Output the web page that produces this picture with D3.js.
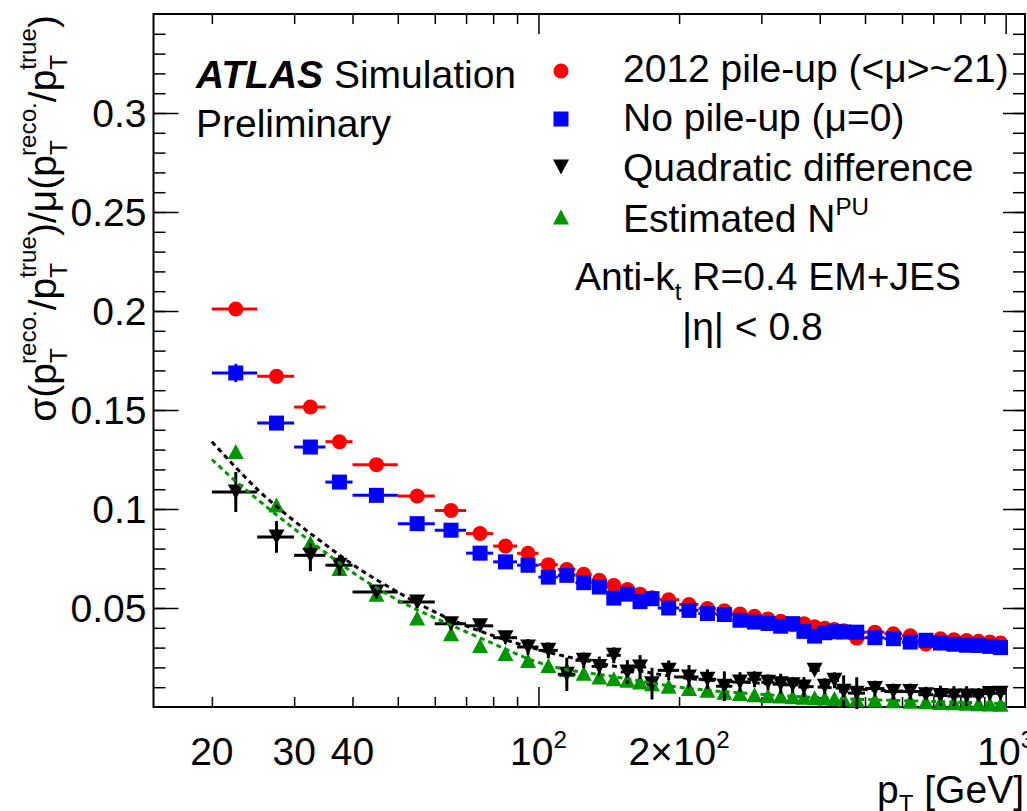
<!DOCTYPE html>
<html>
<head>
<meta charset="utf-8">
<script src="https://cdn.jsdelivr.net/npm/d3@7"></script>
<style>
  body { margin: 0; background: #fff; }
  text { font-family: "Liberation Sans", Arial, Helvetica, sans-serif; }
</style>
</head>
<body>
<svg id="chart" width="1027" height="811"></svg>
<script>
// pT bin edges [GeV]
const ptEdges = [20,25,30,35,40,50,60,70,80,90,100,110,120,130,140,150,160,170,180,200,220,240,260,280,300,320,340,360,380,400,420,440,460,500,550,600,650,700,750,800,850,900,950,1000];

// 2012 pile-up (<mu>~21)
const pileUp = [0.201,0.167,0.1515,0.134,0.1224,0.1066,0.0993,0.0876,0.0813,0.0776,0.0719,0.0695,0.0670,0.0640,0.0614,0.0593,0.0570,0.0552,0.0542,0.0518,0.0497,0.0486,0.0470,0.0458,0.0445,0.0433,0.0415,0.0421,0.0405,0.0398,0.0392,0.0385,0.0348,0.0378,0.0370,0.0360,0.0318,0.0345,0.0340,0.0336,0.0332,0.0328,0.0323];
const pileUpErr = [0.0015,0.0012,0.0012,0.0010,0.0010,0.0010,0.0010,0.0010,0.0010,0.0010,0.0010,0.0010,0.0010,0.0010,0.0010,0.0010,0.0010,0.0010,0.0010,0.0010,0.0010,0.0010,0.0010,0.0010,0.0010,0.0010,0.0010,0.0010,0.0010,0.0010,0.0010,0.0010,0.0010,0.0010,0.0010,0.0010,0.0010,0.0010,0.0010,0.0010,0.0010,0.0010,0.0010];

// no pile-up (mu=0)
const noPileUp = [0.1687,0.1434,0.1313,0.1136,0.1069,0.0926,0.0893,0.0777,0.0733,0.0716,0.0656,0.0665,0.0628,0.0606,0.0550,0.0570,0.0532,0.0547,0.0500,0.0488,0.0472,0.0467,0.0438,0.0429,0.0422,0.0408,0.0421,0.0382,0.0358,0.0375,0.0380,0.0379,0.0378,0.0350,0.0345,0.0328,0.0337,0.0323,0.0317,0.0312,0.0311,0.0306,0.0300];
const noPileUpErr = [0.0046,0.0020,0.0015,0.0015,0.0015,0.0015,0.0012,0.0012,0.0012,0.0012,0.0010,0.0010,0.0010,0.0010,0.0010,0.0010,0.0010,0.0010,0.0010,0.0010,0.0010,0.0010,0.0010,0.0010,0.0010,0.0010,0.0010,0.0010,0.0010,0.0010,0.0010,0.0010,0.0010,0.0010,0.0010,0.0010,0.0010,0.0010,0.0010,0.0010,0.0010,0.0010,0.0010];

// quadratic difference
const quadDiff = [0.1086,0.0859,0.0766,0.0716,0.0581,0.0530,0.0421,0.0410,0.0350,0.0303,0.0286,0.0165,0.0236,0.0205,0.0261,0.0177,0.0202,0.0118,0.0185,0.0152,0.0140,0.0105,0.0126,0.0140,0.0125,0.0118,0.0112,0.0101,0.0185,0.0105,0.0135,0.0080,0.0070,0.0093,0.0078,0.0078,0.0062,0.0058,0.0055,0.0055,0.0055,0.0068,0.0069];
const quadDiffErr = [0.0101,0.0080,0.0080,0.0050,0.0030,0.0030,0.0030,0.0030,0.0030,0.0040,0.0040,0.0084,0.0040,0.0050,0.0040,0.0060,0.0060,0.0080,0.0050,0.0060,0.0050,0.0075,0.0050,0.0040,0.0040,0.0050,0.0040,0.0050,0.0020,0.0040,0.0040,0.0080,0.0080,0.0040,0.0040,0.0040,0.0040,0.0050,0.0050,0.0050,0.0040,0.0030,0.0030];

// estimated N^PU
const estNPU = [0.129,0.102,0.083,0.070,0.057,0.045,0.037,0.031,0.027,0.0235,0.021,0.019,0.017,0.0152,0.0143,0.0135,0.0126,0.0118,0.0105,0.0093,0.0084,0.0075,0.0068,0.0062,0.0058,0.0055,0.0052,0.0049,0.0047,0.0045,0.0043,0.0041,0.0038,0.0035,0.0032,0.0029,0.0026,0.0023,0.0021,0.0019,0.0017,0.0015,0.0014];

// fitted curves
const fitPt = [20,22.5,25,30,35,40,50,60,70,80,100,150,200,300,500,700,1000];
const quadDiffFit = [0.134,0.121,0.110,0.094,0.082,0.072,0.058,0.048,0.041,0.036,0.029,0.020,0.015,0.012,0.0088,0.0075,0.0066];
const estNPUFit = [0.125,0.114,0.105,0.090,0.078,0.068,0.054,0.045,0.038,0.032,0.0225,0.0148,0.010,0.0064,0.0038,0.0028,0.0017];

const xMinorTicks = [20,30,40,50,60,70,80,90,200,300,400,500,600,700,800,900];
const xMajorTicks = [100,1000];
const xLabels = {20:'20', 30:'30', 40:'40', 100:['10','2'], 200:['2×10','2'], 1000:['10','3']};
const yMajorTicks = [0.05,0.1,0.15,0.2,0.25,0.3];
const yMinorTicks = d3.range(1,35).map(i => i/100);

const FS = 39;
const SUB = 0.62;

const svg = d3.select('#chart');
const x = d3.scaleLog().domain([15,1100]).range([153.5,1025]);
const y = d3.scaleLinear().domain([0,0.35]).range([707,14]);

const bins = pileUp.map((v,i) => {
  const lo = ptEdges[i], hi = ptEdges[i+1];
  return {lo, hi, pt: (lo+hi)/2, red: v, redE: pileUpErr[i], blue: noPileUp[i], blueE: noPileUpErr[i],
          blk: quadDiff[i], blkE: quadDiffErr[i], grn: estNPU[i]};
});

// small helper for text with sub/superscripts
function rich(textSel, parts, size) {
  let shift = 0, prevLen = 0;
  parts.forEach(p => {
    const target = p.shift || 0;
    const ts = textSel.append('tspan').text(p.t)
      .attr('font-size', p.small ? size*SUB : size)
      .attr('dy', target - shift);
    if (p.back) ts.attr('dx', -prevLen);
    shift = target;
    prevLen = ts.node().getComputedTextLength();
  });
  return textSel;
}

// ---- axes ----
function styleAxis(g) {
  g.select('.domain').remove();
  g.selectAll('line').attr('stroke', '#000').attr('stroke-width', 1.5);
}
svg.append('g').attr('transform', 'translate(0,707)')
  .call(d3.axisBottom(x).tickValues(xMinorTicks).tickSize(-10).tickFormat(''))
  .call(styleAxis);
svg.append('g').attr('transform', 'translate(0,707)')
  .call(d3.axisBottom(x).tickValues(xMajorTicks).tickSize(-20).tickFormat(''))
  .call(styleAxis);
svg.append('g').attr('transform', 'translate(0,14)')
  .call(d3.axisTop(x).tickValues(xMinorTicks).tickSize(-10).tickFormat(''))
  .call(styleAxis);
svg.append('g').attr('transform', 'translate(0,14)')
  .call(d3.axisTop(x).tickValues(xMajorTicks).tickSize(-20).tickFormat(''))
  .call(styleAxis);

svg.append('g').attr('transform', 'translate(153.5,0)')
  .call(d3.axisLeft(y).tickValues(yMinorTicks).tickSize(-12).tickFormat(''))
  .call(styleAxis);
svg.append('g').attr('transform', 'translate(153.5,0)')
  .call(d3.axisLeft(y).tickValues(yMajorTicks).tickSize(-25).tickPadding(7).tickFormat(d3.format('')))
  .call(styleAxis)
  .call(g => g.selectAll('text').attr('font-size', FS).attr('fill', '#000')
    .attr('font-family', '"Liberation Sans", Arial, sans-serif').attr('dy', '0.34em'));
svg.append('g').attr('transform', 'translate(1025,0)')
  .call(d3.axisRight(y).tickValues(yMinorTicks).tickSize(-12).tickFormat(''))
  .call(styleAxis);
svg.append('g').attr('transform', 'translate(1025,0)')
  .call(d3.axisRight(y).tickValues(yMajorTicks).tickSize(-22).tickFormat(''))
  .call(styleAxis);

// x tick labels
Object.keys(xLabels).forEach(k => {
  const lab = xLabels[k];
  const t = svg.append('text').attr('x', x(+k)).attr('y', 765)
    .attr('text-anchor', 'middle').attr('font-size', FS);
  if (typeof lab === 'string') t.text(lab);
  else rich(t, [{t: lab[0]}, {t: lab[1], small: true, shift: -17}], FS);
});

// frame
svg.append('rect').attr('x', 153.5).attr('y', 14).attr('width', 1025-153.5).attr('height', 707-14)
  .attr('fill', 'none').attr('stroke', '#000').attr('stroke-width', 2);

// axis titles
rich(svg.append('text').attr('x', 1024).attr('y', 803).attr('text-anchor', 'end'),
  [{t: 'p'}, {t: 'T', small: true, shift: 9}, {t: ' [GeV]', shift: 0}], FS);

const yTitle = svg.append('text').attr('transform', 'translate(56,0) rotate(-90)');
rich(yTitle, [
  {t: 'σ(p'}, {t: 'T', small: true, shift: 11}, {t: 'reco.', small: true, shift: -20, back: true},
  {t: '/p', shift: 0}, {t: 'T', small: true, shift: 11}, {t: 'true', small: true, shift: -20, back: true},
  {t: ')/μ(p', shift: 0}, {t: 'T', small: true, shift: 11}, {t: 'reco.', small: true, shift: -20, back: true},
  {t: '/p', shift: 0}, {t: 'T', small: true, shift: 11}, {t: 'true', small: true, shift: -20, back: true},
  {t: ')', shift: 0}
], FS);
const yLen = yTitle.node().getBBox().width;
yTitle.attr('x', -15 - yLen);

// ---- fits ----
const line = d3.line().x(d => x(d[0])).y(d => y(d[1])).curve(d3.curveMonotoneX);

// ---- markers ----
const plot = svg.append('g');
function hbars(key, color) {
  plot.append('g').selectAll('line').data(bins).join('line')
    .attr('x1', d => x(d.lo)).attr('x2', d => x(d.hi))
    .attr('y1', d => y(d[key])).attr('y2', d => y(d[key]))
    .attr('stroke', color).attr('stroke-width', 3);
}
function vbars(key, errKey, color) {
  plot.append('g').selectAll('line').data(bins).join('line')
    .attr('x1', d => x(d.pt)).attr('x2', d => x(d.pt))
    .attr('y1', d => y(d[key] - d[errKey])).attr('y2', d => y(d[key] + d[errKey]))
    .attr('stroke', color).attr('stroke-width', 3);
}
const triUp = 'M0,-7.5L8,7.5L-8,7.5Z';
const triDown = 'M0,7.5L8,-7.5L-8,-7.5Z';

// red: 2012 pile-up
hbars('red', '#ff0000');
vbars('red', 'redE', '#ff0000');
plot.append('g').selectAll('circle').data(bins).join('circle')
  .attr('cx', d => x(d.pt)).attr('cy', d => y(d.red)).attr('r', 7.5).attr('fill', '#ff0000');

// blue: no pile-up
hbars('blue', '#0000ff');
vbars('blue', 'blueE', '#0000ff');
plot.append('g').selectAll('rect').data(bins).join('rect')
  .attr('x', d => x(d.pt) - 7.5).attr('y', d => y(d.blue) - 7.5)
  .attr('width', 15).attr('height', 15).attr('fill', '#0000ff');

// green: estimated N^PU
plot.append('g').selectAll('path').data(bins).join('path')
  .attr('d', triUp).attr('transform', d => `translate(${x(d.pt)},${y(d.grn)})`)
  .attr('fill', '#009600');

// black: quadratic difference
hbars('blk', '#000');
vbars('blk', 'blkE', '#000');
plot.append('g').selectAll('path').data(bins).join('path')
  .attr('d', triDown).attr('transform', d => `translate(${x(d.pt)},${y(d.blk)})`)
  .attr('fill', '#000');

plot.append('path').datum(fitPt.map((p,i) => [p, estNPUFit[i]]))
  .attr('d', line).attr('fill', 'none').attr('stroke', '#009600')
  .attr('stroke-width', 3).attr('stroke-dasharray', '5,4');
plot.append('path').datum(fitPt.map((p,i) => [p, quadDiffFit[i]]))
  .attr('d', line).attr('fill', 'none').attr('stroke', '#000')
  .attr('stroke-width', 3).attr('stroke-dasharray', '5,4');

// ---- labels ----
const atlas = svg.append('text').attr('x', 196).attr('y', 88).attr('font-size', FS);
atlas.append('tspan').text('ATLAS').attr('font-weight', 'bold').attr('font-style', 'italic');
atlas.append('tspan').text(' Simulation');
svg.append('text').attr('x', 196).attr('y', 137).attr('font-size', FS).text('Preliminary');

// legend
const legX = 561, legTextX = 623;
svg.append('circle').attr('cx', legX).attr('cy', 71).attr('r', 7.5).attr('fill', '#ff0000');
svg.append('rect').attr('x', legX - 7.5).attr('y', 111.5).attr('width', 15).attr('height', 15).attr('fill', '#0000ff');
svg.append('path').attr('d', triDown).attr('transform', `translate(${legX},167)`).attr('fill', '#000');
svg.append('path').attr('d', triUp).attr('transform', `translate(${legX},217)`).attr('fill', '#009600');

svg.append('text').attr('x', legTextX).attr('y', 82).attr('font-size', FS).text('2012 pile-up (<μ>~21)');
svg.append('text').attr('x', legTextX).attr('y', 131).attr('font-size', FS).text('No pile-up (μ=0)');
svg.append('text').attr('x', legTextX).attr('y', 181).attr('font-size', FS).text('Quadratic difference');
rich(svg.append('text').attr('x', legTextX).attr('y', 232),
  [{t: 'Estimated N'}, {t: 'PU', small: true, shift: -17}], FS);

rich(svg.append('text').attr('x', 575).attr('y', 290),
  [{t: 'Anti-k'}, {t: 't', small: true, shift: 10}, {t: ' R=0.4 EM+JES', shift: 0}], FS);
svg.append('text').attr('x', 682).attr('y', 340).attr('font-size', FS).text('|η| < 0.8');
</script>
</body>
</html>
